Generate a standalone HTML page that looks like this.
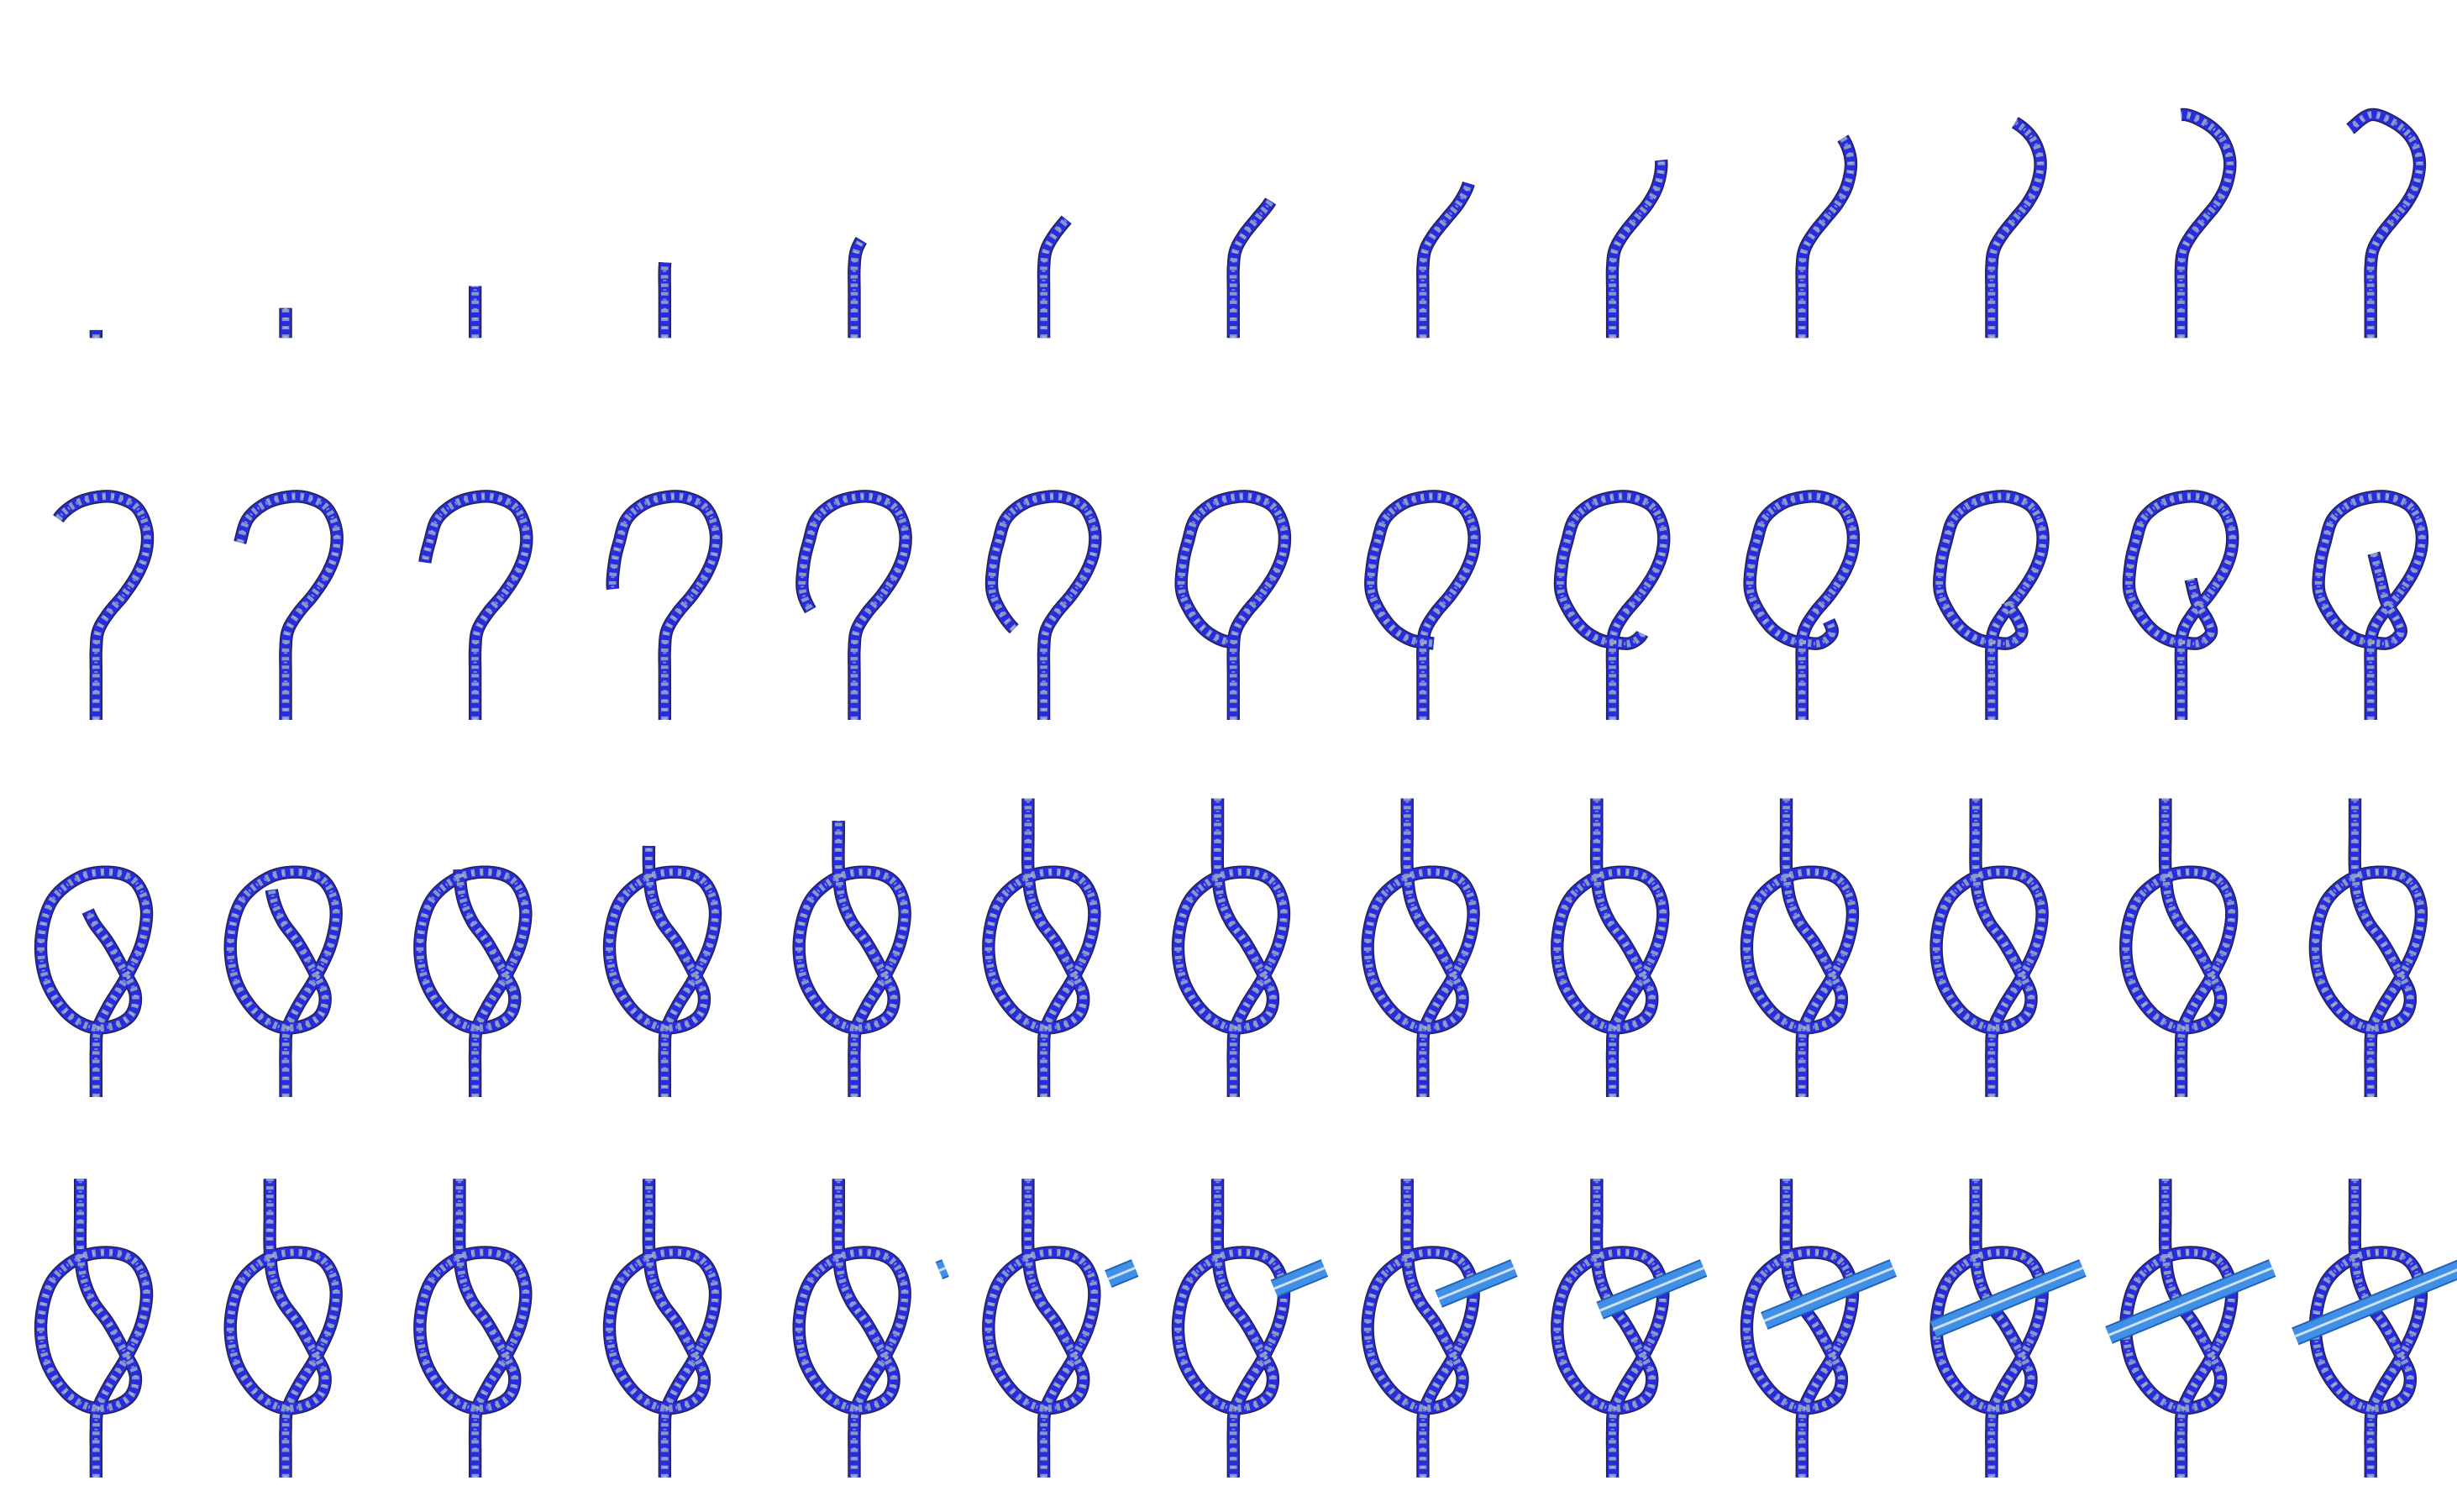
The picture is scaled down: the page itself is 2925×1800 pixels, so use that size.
<!DOCTYPE html>
<html><head><meta charset="utf-8"><title>Knot tying frames</title>
<style>
html,body{margin:0;padding:0;background:#fff;}
svg{display:block;}
</style></head>
<body>
<svg id="chart" width="2925" height="1800" viewBox="0 0 1563 962" xmlns="http://www.w3.org/2000/svg">
<rect width="1563" height="962" fill="#fff"/>
<g id="frames"></g>
</svg>
<script>
// layout rows (bottom y of rope in each row) and column centers
const rowBottoms = [215, 458, 698, 940];
const colCount = 13;
// rope shapes per row (relative to column centre / row bottom)
const shapeRow1 = [[0,0],[0,-15],[0,-30],[0,-45],[1.5,-56],[7,-66],[15,-76],[23,-86],[29,-98],[31,-113],[26,-127],[15,-137],[0,-142],[-13,-133]];
const shapeRow2 = [[0,0],[0,-15],[0,-30],[0,-45],[1.5,-57],[8,-68],[18,-80],[27,-94],[32,-108],[32,-122],[26,-135],[15,-141],[3,-142],[-12,-138],[-24,-128],[-29,-113],[-32,-100],[-33,-83],[-28,-70],[-19,-58],[-8,-51],[3,-49],[12,-49],[19,-55],[17,-63],[10,-75],[6,-90],[2,-106]];
const shapeKnot = [[0,0],[0,-15],[0,-30],[1,-43],[8,-58],[19,-76],[29,-98],[32,-120],[25,-137],[10,-143],[-10,-140],[-28,-125],[-35,-100],[-32,-75],[-20,-55],[-5,-45],[10,-45],[22,-52],[25,-65],[18,-80],[8,-98],[-2,-112],[-8,-127],[-10,-145],[-10,-168],[-10,-190]];
// rope end positions for each frame
const endsRow1 = [[0,-5],[0,-19],[0,-33],[0,-48],[5,-62],[15,-75],[24,-87],[30,-98],[31,-113],[26,-127],[15,-137],[0,-142],[-13,-133]];
const endsRow2 = [[-24,-128],[-29,-113],[-32,-100],[-33,-83],[-28,-70],[-19,-58],[-3,-50],[7,-49],[19,-55],[17,-63],[10,-75],[8,-90],[2,-106]];
const endsRow3 = [[-6,-118],[-9,-132],[-10,-145],[-10,-160],[-9,-176],[-10,-190],[-10,-190],[-10,-190],[-10,-190],[-10,-190],[-10,-190],[-10,-190],[-10,-190]];
const endsRow4 = [[-10,-190],[-10,-190],[-10,-190],[-10,-190],[-10,-190],[-10,-190],[-10,-190],[-10,-190],[-10,-190],[-10,-190],[-10,-190],[-10,-190],[-10,-190]];
// rod left-end offset per frame in row 4 (null = no rod)
const rodLeft = [null,null,null,null,54,41,26,10,-8,-24,-37,-46,-48];
const rodRight = 58;

const NS = "http://www.w3.org/2000/svg";
const g = document.getElementById('frames');
function colX(i){ return 61 + i*120.6; }
function crPath(pts){
  let d = "M"+pts[0][0]+","+pts[0][1];
  for(let i=0;i<pts.length-1;i++){
    const p0=pts[Math.max(0,i-1)],p1=pts[i],p2=pts[i+1],p3=pts[Math.min(pts.length-1,i+2)];
    const c1=[p1[0]+(p2[0]-p0[0])/6,p1[1]+(p2[1]-p0[1])/6];
    const c2=[p2[0]-(p3[0]-p1[0])/6,p2[1]-(p3[1]-p1[1])/6];
    d+=" C"+c1[0]+","+c1[1]+" "+c2[0]+","+c2[1]+" "+p2[0]+","+p2[1];
  }
  return d;
}
function sampleShape(pts){
  const p=document.createElementNS(NS,'path');
  p.setAttribute('d',crPath(pts));
  p.setAttribute('fill','none');
  p.setAttribute('visibility','hidden');
  document.getElementById('chart').appendChild(p);
  const L=p.getTotalLength(), s=[];
  for(let l=0;l<=L;l+=0.5){const q=p.getPointAtLength(l);s.push([q.x,q.y]);}
  const q=p.getPointAtLength(L);s.push([q.x,q.y]);
  p.remove();
  return s;
}
function drawRope(cx,by,samples,end,name){
  let best=0,bd=1e9;
  for(let i=0;i<samples.length;i++){
    const dx=samples[i][0]-end[0],dy=samples[i][1]-end[1],dd=dx*dx+dy*dy;
    if(dd<bd){bd=dd;best=i;}
  }
  const pts=samples.slice(0,best+1).map(p=>(cx+p[0]).toFixed(2)+","+(by+p[1]).toFixed(2)).join(" ");
  const grp=document.createElementNS(NS,'g');
  
  
  const layers=[["#23234a",8.2,null,1],["#2a2ade",6.6,null,1],["#9fc4bc",4.6,"2.2 3.2",0.75],["#d6b8d8",2.2,"1 5",0.6]];
  layers.forEach(l=>{
    const pl=document.createElementNS(NS,'polyline');
    pl.setAttribute('points',pts);
    pl.setAttribute('fill','none');
    pl.setAttribute('stroke',l[0]);
    pl.setAttribute('stroke-width',l[1]);
    pl.setAttribute('stroke-linejoin','round');
    pl.setAttribute('stroke-linecap','butt');
    pl.setAttribute('opacity',l[3]);
    if(l[2])pl.setAttribute('stroke-dasharray',l[2]);
    
    
    grp.appendChild(pl);
  });
  g.appendChild(grp);
}
function drawRod(cx,by,left,name){
  const yAt=x=>-132+(55-x)*0.41;
  const x1=cx+left,y1=by+yAt(left),x2=cx+rodRight,y2=by+yAt(rodRight);
  const grp=document.createElementNS(NS,'g');
  
  
  const layers=[["#1f5fb5",12],["#3f90e6",10],["#cfe0f2",1.6]];
  layers.forEach(l=>{
    const ln=document.createElementNS(NS,'line');
    ln.setAttribute('x1',x1);ln.setAttribute('y1',y1);
    ln.setAttribute('x2',x2);ln.setAttribute('y2',y2);
    ln.setAttribute('stroke',l[0]);ln.setAttribute('stroke-width',l[1]);
    ln.setAttribute('stroke-linecap','butt');
    
    
    grp.appendChild(ln);
  });
  g.appendChild(grp);
}
const s1=sampleShape(shapeRow1), s2=sampleShape(shapeRow2), sk=sampleShape(shapeKnot);
const rows=[[s1,endsRow1],[s2,endsRow2],[sk,endsRow3],[sk,endsRow4]];
rows.forEach((r,ri)=>{
  for(let c=0;c<colCount;c++){
    drawRope(colX(c),rowBottoms[ri],r[0],r[1][c],'rope-frame-r'+(ri+1)+'-c'+(c+1));
    if(ri===3 && rodLeft[c]!==null) drawRod(colX(c),rowBottoms[ri],rodLeft[c],'rod-frame-c'+(c+1));
  }
});
</script>
</body></html>
